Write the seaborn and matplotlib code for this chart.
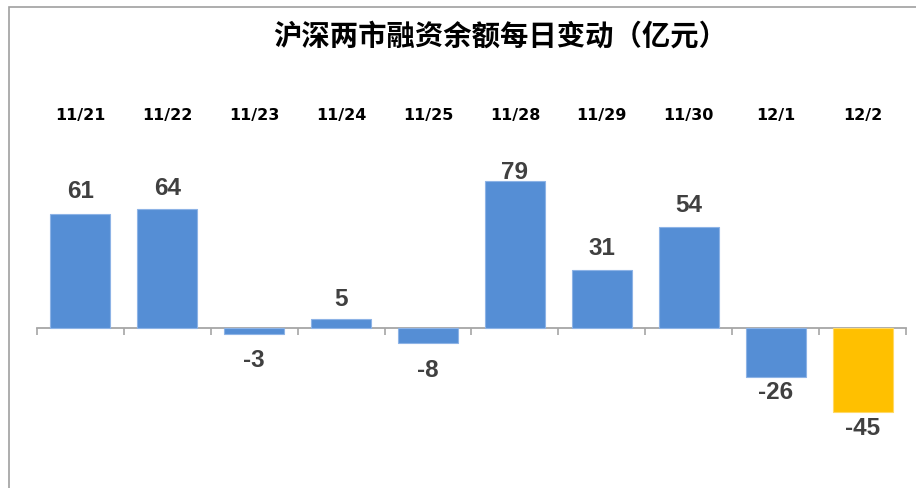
import matplotlib
matplotlib.use("Agg")
import matplotlib.pyplot as plt
import seaborn as sns
import pandas as pd
from matplotlib.patches import Rectangle

categories = ["11/21", "11/22", "11/23", "11/24", "11/25", "11/28", "11/29", "11/30", "12/1", "12/2"]
values = [61, 64, -3, 5, -8, 79, 31, 54, -26, -45]
bar_colors = ["#558ED5"] * 9 + ["#FFC000"]
title = "沪深两市融资余额每日变动（亿元）"

# label offsets (points) as placed in the original chart
label_pad = [8, 6, 11, 6, 11.5, -2.5, 7.2, 7.2, 3, 3]

sns.set_style("white")
plt.rcParams['font.family'] = ['Noto Sans CJK SC', 'DejaVu Sans']

W, H = 916, 488
fig = plt.figure(figsize=(W / 100, H / 100), dpi=100)
ax = fig.add_axes([37 / W, 0.0, 869 / W, 348 / H])

df = pd.DataFrame({"date": categories, "value": values})
sns.barplot(data=df, x="date", y="value", hue="date", palette=bar_colors,
            legend=False, width=0.69, ax=ax, saturation=1,
            edgecolor="#8db3e6", linewidth=0.8)
ax.patches[-1].set_edgecolor("#ffd966")

ax.set_xlim(-0.5, len(categories) - 0.5)
ax.set_ylim(-85.4, 100.7)
ax.set_xlabel("")
ax.set_ylabel("")
ax.set_yticks([])

for s in ["top", "left", "right"]:
    ax.spines[s].set_visible(False)
ax.spines["bottom"].set_position(("data", 0))
ax.spines["bottom"].set_color("#a6a6a6")
ax.spines["bottom"].set_linewidth(1.3)
ax.spines["bottom"].set_zorder(0.5)

ax.set_xticks(range(len(categories)))
ax.set_xticklabels([])
ax.tick_params(axis="x", which="major", length=0)
ax.set_xticks([i - 0.5 for i in range(len(categories) + 1)], minor=True)
ax.tick_params(axis="x", which="minor", direction="out", length=5, width=1.2,
               color="#a6a6a6", bottom=True)

for cont, pad in zip(ax.containers, label_pad):
    ax.bar_label(cont, fmt="%d", padding=pad, fontsize=17.5, fontweight="bold",
                 color="#404040", family=["Liberation Sans", "DejaVu Sans"])

sec = ax.secondary_xaxis(1 + (140 - 123) / 348)
sec.set_xticks(range(len(categories)))
sec.set_xticklabels(categories, fontsize=11.5, fontweight="bold",
                    family=["DejaVu Sans"], color="black")
sec.tick_params(length=0, pad=0)
sec.spines["top"].set_visible(False)

fig.text(500 / W, 1 - 37 / H, title, ha="center", va="center", fontsize=20.4,
         fontweight="bold", color="black")

fig.patches.append(Rectangle((9 / W, -0.1), 1.2, 1 - 7 / H + 0.1,
                             transform=fig.transFigure, fill=False,
                             edgecolor="#a0a0a0", linewidth=1.2, zorder=0))

fig.savefig("out.png", dpi=100, facecolor="white")
